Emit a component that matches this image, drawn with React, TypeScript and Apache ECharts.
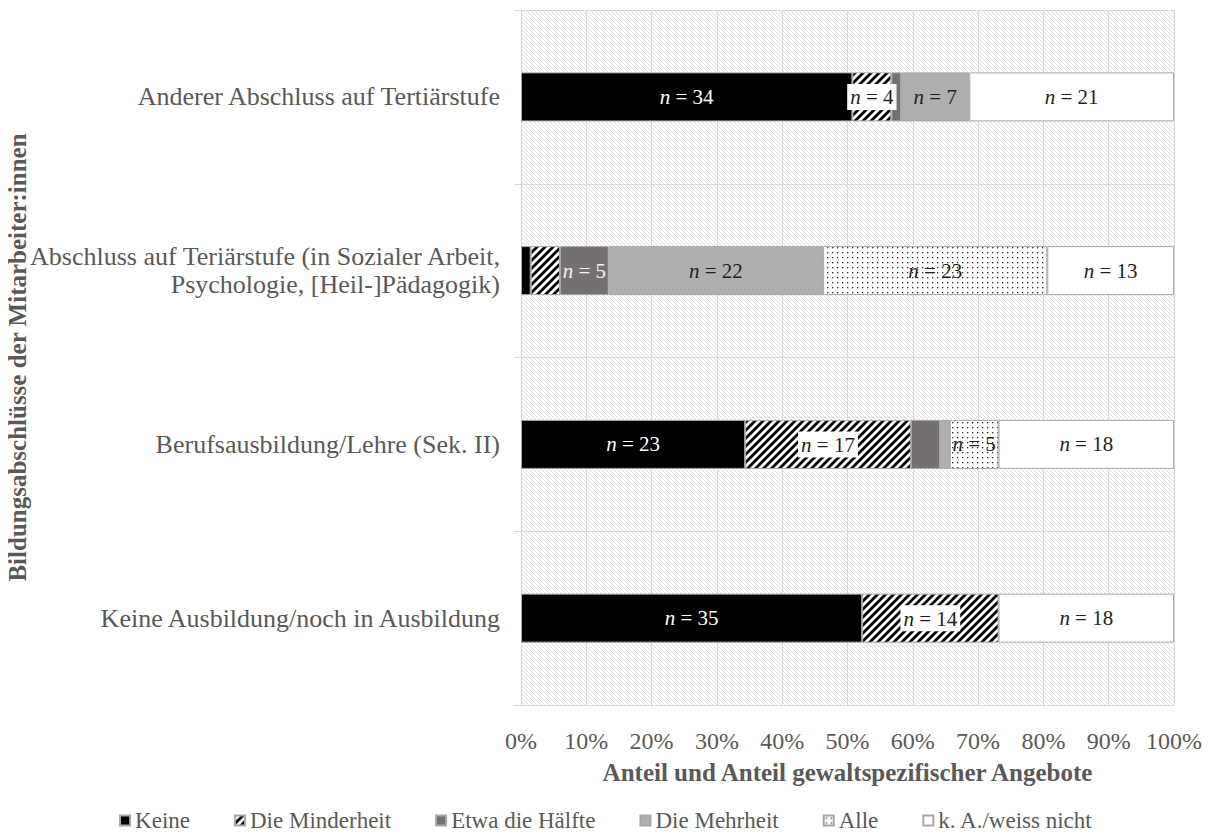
import { useEffect, useRef } from "react";
import * as echarts from "echarts";

// Categories listed top to bottom (the y axis is inverted)
const categories = [
  "Anderer Abschluss auf Tertiärstufe",
  "Abschluss auf Teriärstufe (in Sozialer Arbeit,\nPsychologie, [Heil-]Pädagogik)",
  "Berufsausbildung/Lehre (Sek. II)",
  "Keine Ausbildung/noch in Ausbildung",
];

const seriesNames = [
  "Keine",
  "Die Minderheit",
  "Etwa die Hälfte",
  "Die Mehrheit",
  "Alle",
  "k. A./weiss nicht",
];

// Counts (n) per category, in category order
const keine = [34, 1, 23, 35];
const minderheit = [4, 3, 17, 14];
const etwaHaelfte = [1, 5, 3, 0];
const mehrheit = [7, 22, 1, 0];
const alle = [0, 23, 5, 0];
const keineAngabe = [21, 13, 18, 18];

const xTickValues = [0, 10, 20, 30, 40, 50, 60, 70, 80, 90, 100];

const counts = [keine, minderheit, etwaHaelfte, mehrheit, alle, keineAngabe];
const totals = categories.map((_, i) => counts.reduce((s, arr) => s + arr[i], 0));

const FONT = "Liberation Serif";
const TEXT_GRAY = "#595959";
const DARK = "#1f1f1f";

function svgPattern(svg: string, w: number, h: number) {
  return {
    image: "data:image/svg+xml;charset=utf-8," + encodeURIComponent(svg),
    imageWidth: w,
    imageHeight: h,
    repeat: "repeat",
  };
}

// light "\" hatch for the plot background
const bgHatch = svgPattern(
  `<svg xmlns="http://www.w3.org/2000/svg" width="4" height="4"><rect width="4" height="4" fill="#ffffff"/><path d="M-1,-1 L5,5 M-1,3 L1,5 M3,-1 L5,1" stroke="#dedede" stroke-width="1"/></svg>`,
  4,
  4
);

// bold "/" stripes
const stripes = svgPattern(
  `<svg xmlns="http://www.w3.org/2000/svg" width="8" height="8"><rect width="8" height="8" fill="#ffffff"/><path d="M-1,9 L9,-1 M-3,3 L3,-3 M5,11 L11,5" stroke="#000000" stroke-width="2.8"/></svg>`,
  8,
  8
);

// fine dots
const dots = svgPattern(
  `<svg xmlns="http://www.w3.org/2000/svg" width="5" height="5"><rect width="5" height="5" fill="#ffffff"/><rect x="2" y="2" width="1.3" height="1.3" fill="#2a2a2a"/></svg>`,
  5,
  5
);

const fills: any[] = ["#000000", stripes, "#767171", "#afafaf", dots, "#ffffff"];

const labelStyles = [
  { color: "#ffffff" },
  { color: DARK, backgroundColor: "#ffffff", padding: [3, 3, 2, 3] },
  { color: "#f2f2f2" },
  { color: DARK },
  { color: DARK },
  { color: DARK },
];

export default function App() {
  const ref = useRef<HTMLDivElement>(null);

  useEffect(() => {
    if (!ref.current) return;
    const chart = echarts.init(ref.current, undefined, { renderer: "svg" });

    const series = seriesNames.map((name, si) => ({
      name,
      type: "bar",
      stack: "total",
      barWidth: 49,
      data: counts[si].map((n, ci) => (n > 0 ? (n / totals[ci]) * 100 : null)),
      itemStyle: {
        color: fills[si],
        borderColor: "#a6a6a6",
        borderWidth: 1,
      },
      label: {
        show: true,
        position: "inside",
        fontFamily: FONT,
        fontSize: 21,
        ...labelStyles[si],
        formatter: (p: any) => {
          const n = counts[si][p.dataIndex];
          return n >= 4 ? `{i|n}{r| = ${n}}` : "";
        },
        rich: {
          i: {
            fontStyle: "italic",
            fontFamily: FONT,
            fontSize: 21,
            color: labelStyles[si].color,
          },
          r: {
            fontFamily: FONT,
            fontSize: 21,
            color: labelStyles[si].color,
          },
        },
      },
      emphasis: { disabled: true },
    }));

    chart.setOption({
      animation: false,
      textStyle: { fontFamily: FONT },
      grid: {
        left: 521,
        right: 38,
        top: 10,
        bottom: 131,
        containLabel: false,
        outerBoundsMode: "none",
        show: true,
        borderWidth: 0,
        backgroundColor: bgHatch,
      },
      xAxis: {
        type: "value",
        min: 0,
        max: 100,
        interval: 10,
        name: "Anteil und Anteil gewaltspezifischer Angebote",
        nameLocation: "middle",
        nameGap: 55,
        nameMoveOverlap: false,
        nameTextStyle: {
          fontFamily: FONT,
          fontSize: 25,
          fontWeight: "bold",
          color: TEXT_GRAY,
        },
        axisLine: { show: true, lineStyle: { color: "#d9d9d9", width: 1 } },
        axisTick: { show: false },
        axisLabel: {
          margin: 24,
          fontFamily: FONT,
          fontSize: 24,
          color: TEXT_GRAY,
          formatter: (v: number) => (xTickValues.includes(v) ? `${v}%` : ""),
        },
        splitLine: { show: true, lineStyle: { color: "#d9d9d9", width: 1 } },
      },
      yAxis: {
        type: "category",
        inverse: true,
        data: categories,
        name: "Bildungsabschlüsse der Mitarbeiter:innen",
        nameLocation: "middle",
        nameGap: 491,
        nameMoveOverlap: false,
        nameTextStyle: {
          fontFamily: FONT,
          fontSize: 25,
          fontWeight: "bold",
          color: TEXT_GRAY,
        },
        axisLine: { show: true, lineStyle: { color: "#d9d9d9", width: 1 } },
        axisTick: { show: true, length: 7, lineStyle: { color: "#d9d9d9" } },
        splitLine: { show: true, lineStyle: { color: "#d9d9d9", width: 1 } },
        axisLabel: {
          margin: 21,
          fontFamily: FONT,
          fontSize: 26,
          lineHeight: 28,
          color: TEXT_GRAY,
          align: "right",
        },
      },
      legend: {
        top: 804,
        left: "center",
        icon: "rect",
        itemWidth: 10,
        itemHeight: 10,
        itemGap: 44,
        textStyle: { fontFamily: FONT, fontSize: 23, color: TEXT_GRAY },
        data: seriesNames,
      },
      series,
    });

    return () => chart.dispose();
  }, []);

  return <div ref={ref} style={{ width: 1212, height: 836, margin: -8 }} />;
}
